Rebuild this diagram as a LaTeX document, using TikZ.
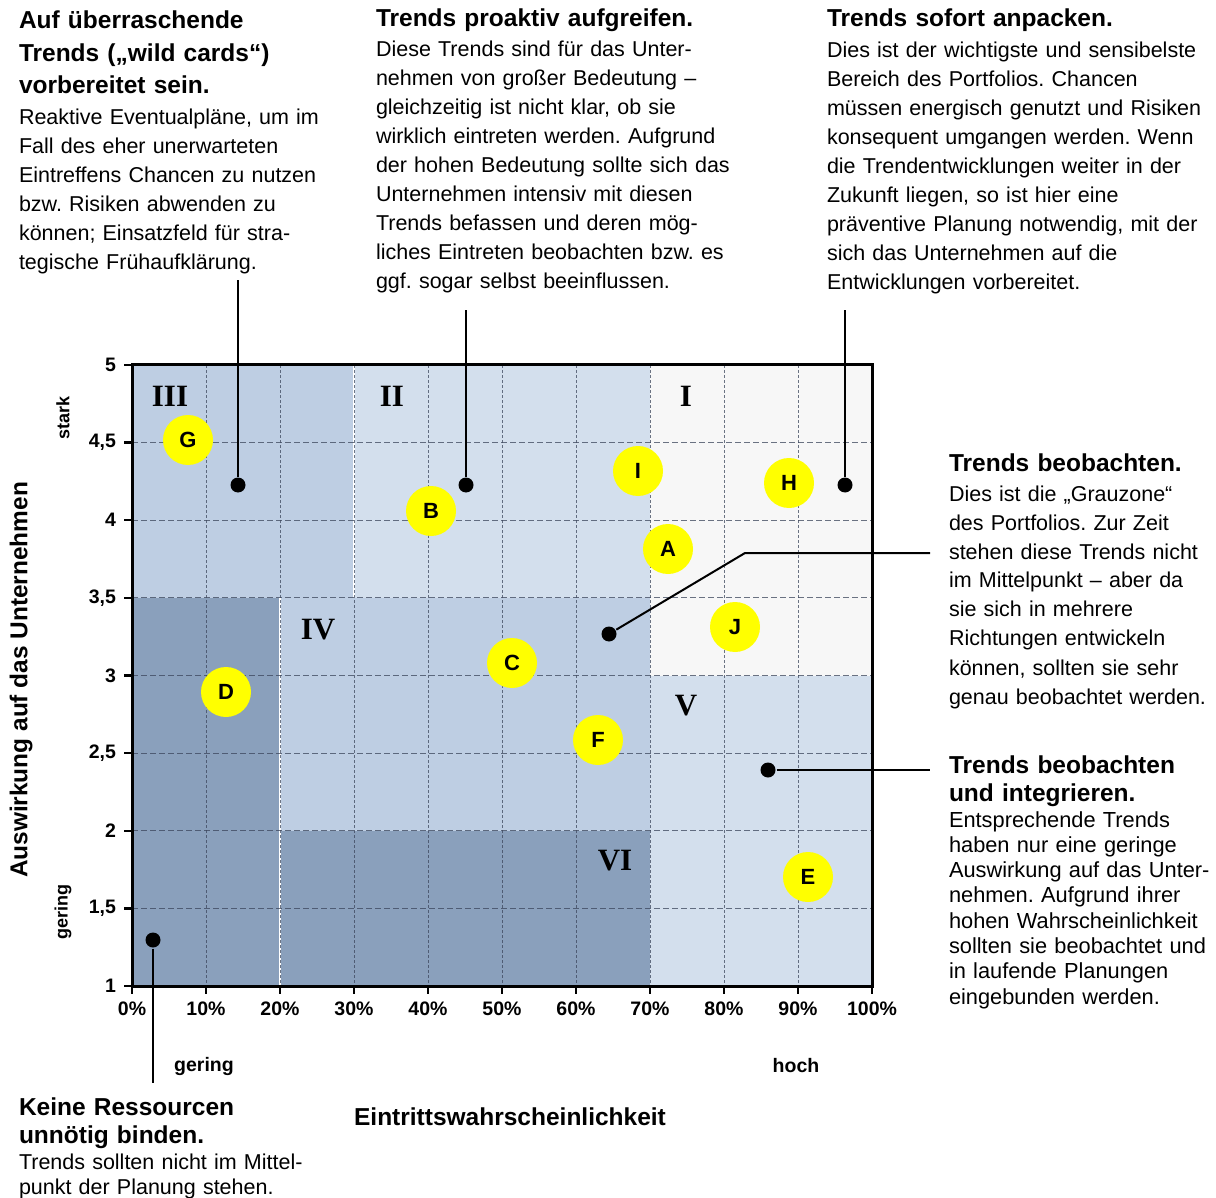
\documentclass[tikz,border=0pt]{standalone}
\usepackage{fontspec}
\setmainfont{Liberation Sans}
\newfontfamily\romfont{Liberation Serif}
\usepackage{tikz}
\usetikzlibrary{arrows.meta}
\frenchspacing

\definecolor{zonelight}{RGB}{247,247,247}
\definecolor{zonepale}{RGB}{211,223,237}
\definecolor{zonemid}{RGB}{190,206,227}
\definecolor{zonedark}{RGB}{138,160,188}
\definecolor{gridcol}{RGB}{60,70,92}
\definecolor{trendyellow}{RGB}{255,255,0}

\begin{document}
\begin{tikzpicture}[x=0.5pt, y=-0.5pt, line width=1pt,
    ttl/.style={anchor=base west, inner sep=0pt, text width=200pt, align=left,
        font=\fontsize{12.25}{16.25}\selectfont\bfseries},
    txt/.style={anchor=base west, inner sep=0pt, text width=200pt, align=left,
        font=\fontsize{10.75}{14.5}\selectfont},
    small/.style={txt, font=\fontsize{10.9}{12.65}\selectfont},
    ticklbl/.style={inner sep=0pt, font=\fontsize{9.75}{11}\selectfont\bfseries},
    roman/.style={inner sep=0pt, font=\fontsize{15.5}{17}\selectfont\romfont\bfseries},
    trend/.style={circle, fill=trendyellow, minimum size=25pt, inner sep=0pt,
        font=\fontsize{11}{12}\selectfont\bfseries},
    dot/.style={circle, fill=black, minimum size=7.5pt, inner sep=0pt},
    vgrid/.style={gridcol, opacity=0.75, line width=0.5pt, dash pattern=on 1.5pt off 1pt},
    hgrid/.style={gridcol, opacity=0.75, line width=0.6pt, dash pattern=on 3pt off 1.5pt}]
    \useasboundingbox (0,0) rectangle (1216,1198);

    \fill[zonemid] (132,365) rectangle (354,598);
    \fill[zonepale] (354,365) rectangle (650,598);
    \fill[zonelight] (650,365) rectangle (872,675.5);
    \fill[zonemid] (280,598) rectangle (650,830.75);
    \fill[zonepale] (650,675.5) rectangle (872,986);
    \fill[zonedark] (132,598) rectangle (280,986);
    \fill[zonedark] (280,830.75) rectangle (650,986);
    \draw[white, line width=0.6pt] (354,365) -- (354,598);
    \draw[white, line width=0.6pt] (280,598) -- (280,986);

    \foreach \i in {1,...,9}
        \draw[vgrid] ({132+74*\i},365) -- ({132+74*\i},986);
    \foreach \k in {1,...,7}
        \draw[hgrid] (132,{986-77.625*\k}) -- (872,{986-77.625*\k});

    \draw[line width=1.5pt] (132,365) -- (872,365) -- (872,986) -- (132,986) -- cycle;
    \foreach \k in {0,...,8}
        \draw[line width=1.2pt] (124,{986-77.625*\k}) -- (132,{986-77.625*\k});
    \foreach \i in {0,...,10}
        \draw[line width=1.2pt] ({132+74*\i},986) -- ({132+74*\i},994);

    \foreach \lab [count=\k from 0] in {1,{1,5},2,{2,5},3,{3,5},4,{4,5},5}
        \node[ticklbl, anchor=east] (ylab\k) at (117,{986-77.625*\k}) {\lab};
    \foreach \lab [count=\i from 0] in {0,10,20,30,40,50,60,70,80,90,100}
        \node[ticklbl] (xlab\i) at ({132+74*\i},1009) {\lab\%};

    \node[roman] (zIII) at (170,396) {III};
    \node[roman] (zII) at (392,396) {II};
    \node[roman] (zI) at (686,396) {I};
    \node[roman] (zIV) at (318,630) {IV};
    \node[roman] (zV) at (686,706) {V};
    \node[roman] (zVI) at (615,861) {VI};

    \foreach \lbl/\px/\py in {G/188/440, B/431/511, I/638/471, H/789/483, A/668/549,
                              J/735/627, C/512/663, D/226/692, F/598/740, E/808/877}
        \node[trend] (t\lbl) at (\px,\py) {\lbl};

    \node[dot] (dIII) at (238,485) {};
    \node[dot] (dII) at (466,485) {};
    \node[dot] (dI) at (845,485) {};
    \node[dot] (dIV) at (609,634) {};
    \node[dot] (dV) at (768,770) {};
    \node[dot] (dVI) at (153,940) {};
    \coordinate (eIII) at (238,280);
    \coordinate (eII) at (466,310);
    \coordinate (eI) at (845,310);
    \coordinate (kIV) at (745,553);
    \coordinate (eIV) at (930,553);
    \coordinate (eV) at (930,770);
    \coordinate (eVI) at (153,1083);
    \draw (dIII) -- (eIII);
    \draw (dII) -- (eII);
    \draw (dI) -- (eI);
    \draw (dIV) -- (kIV) -- (eIV);
    \draw (dV) -- (eV);
    \draw (dVI) -- (eVI);

    \node[ttl] (hIII) at (18,29) {Auf überraschende\\Trends („wild cards“)\\vorbereitet sein.};
    \node[txt] (bIII) at (18,125) {Reaktive Eventualpläne, um im\\Fall des eher unerwarteten\\Eintreffens Chancen zu nutzen\\bzw. Risiken abwenden zu\\können; Einsatzfeld für stra-\\tegische Frühaufklärung.};

    \node[ttl] (hII) at (375,27) {Trends proaktiv aufgreifen.};
    \node[txt] (bII) at (375,57) {Diese Trends sind für das Unter-\\nehmen von großer Bedeutung –\\gleichzeitig ist nicht klar, ob sie\\wirklich eintreten werden. Aufgrund\\der hohen Bedeutung sollte sich das\\Unternehmen intensiv mit diesen\\Trends befassen und deren mög-\\liches Eintreten beobachten bzw. es\\ggf. sogar selbst beeinflussen.};

    \node[ttl] (hI) at (826,27) {Trends sofort anpacken.};
    \node[txt] (bI) at (826,58) {Dies ist der wichtigste und sensibelste\\Bereich des Portfolios. Chancen\\müssen energisch genutzt und Risiken\\konsequent umgangen werden. Wenn\\die Trendentwicklungen weiter in der\\Zukunft liegen, so ist hier eine\\präventive Planung notwendig, mit der\\sich das Unternehmen auf die\\Entwicklungen vorbereitet.};

    \node[ttl] (hIV) at (948,471) {Trends beobachten.};
    \node[txt] (bIV) at (948,501) {Dies ist die „Grauzone“\\des Portfolios. Zur Zeit\\stehen diese Trends nicht\\im Mittelpunkt – aber da\\sie sich in mehrere\\Richtungen entwickeln\\können, sollten sie sehr\\genau beobachtet werden.};

    \node[ttl, font=\fontsize{12.25}{14}\selectfont\bfseries] (hV) at (948,773) {Trends beobachten\\und integrieren.};
    \node[small] (bV) at (948,827) {Entsprechende Trends\\haben nur eine geringe\\Auswirkung auf das Unter-\\nehmen. Aufgrund ihrer\\hohen Wahrscheinlichkeit\\sollten sie beobachtet und\\in laufende Planungen\\eingebunden werden.};

    \node[ttl, font=\fontsize{12.25}{14}\selectfont\bfseries] (hVI) at (18,1115) {Keine Ressourcen\\unnötig binden.};
    \node[txt, font=\fontsize{10.75}{12.5}\selectfont] (bVI) at (18,1169) {Trends sollten nicht im Mittel-\\punkt der Planung stehen.};

    \node[ttl, anchor=base, text width=] (xtitle) at (510,1125) {Eintrittswahrscheinlichkeit};
    \node[ticklbl] (xlow) at (204,1066) {gering};
    \node[ticklbl] (xhigh) at (796,1066) {hoch};
    \node[inner sep=0pt, rotate=90, font=\fontsize{12.2}{14}\selectfont\bfseries] (ytitle) at (21,680) {Auswirkung auf das Unternehmen};
    \node[ticklbl, rotate=90, font=\fontsize{9}{11}\selectfont\bfseries] (yhigh) at (63,418) {stark};
    \node[ticklbl, rotate=90, font=\fontsize{9}{11}\selectfont\bfseries] (ylow) at (63,912) {gering};
\end{tikzpicture}
\end{document}
